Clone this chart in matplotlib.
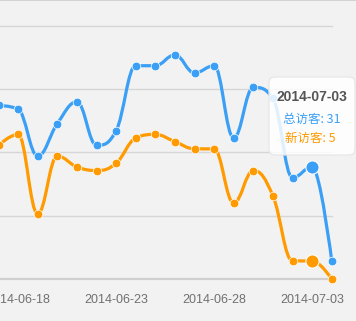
import numpy as np
import matplotlib
matplotlib.use("Agg")
import matplotlib.pyplot as plt
from matplotlib.path import Path
from matplotlib.patches import PathPatch, FancyBboxPatch
from matplotlib.transforms import IdentityTransform

# data (day index 0 = 2014-06-17)
dates = ["06-17", "06-18", "06-19", "06-20", "06-21", "06-22", "06-23", "06-24", "06-25",
         "06-26", "06-27", "06-28", "06-29", "06-30", "07-01", "07-02", "07-03", "07-04"]
total_visitors = [48, 47, 34, 43, 49, 37, 41, 59, 59, 62, 57, 59, 39, 53, 50, 28, 31, 5]
new_visitors = [37, 40, 18, 34, 31, 30, 32, 39, 40, 38, 36, 36, 21, 30, 23, 5, 5, 0]
tick_idx = [1, 6, 11, 16]
tick_labels = ["2014-06-18", "2014-06-23", "2014-06-28", "2014-07-03"]
grid_vals = [0, 17.5, 35, 52.5, 70]
hover_idx = 16

BLUE = "#3a9ff5"
ORANGE = "#ff9a00"
BG = "#f2f2f2"


def spline_path(xs, ys, smoothing=1.5):
    # highcharts-like spline control points
    n = len(xs)
    denom = smoothing + 1
    lc = [(xs[i], ys[i]) for i in range(n)]
    rc = [(xs[i], ys[i]) for i in range(n)]
    for i in range(1, n - 1):
        x, y = xs[i], ys[i]
        lx, ly = xs[i - 1], ys[i - 1]
        nx, ny = xs[i + 1], ys[i + 1]
        lcx = (smoothing * x + lx) / denom
        lcy = (smoothing * y + ly) / denom
        rcx = (smoothing * x + nx) / denom
        rcy = (smoothing * y + ny) / denom
        corr = (rcy - lcy) * (rcx - x) / (rcx - lcx) + y - rcy
        lcy += corr
        rcy += corr
        if lcy > ly and lcy > y:
            lcy = max(ly, y)
            rcy = 2 * y - lcy
        elif lcy < ly and lcy < y:
            lcy = min(ly, y)
            rcy = 2 * y - lcy
        if rcy > ny and rcy > y:
            rcy = max(ny, y)
            lcy = 2 * y - rcy
        elif rcy < ny and rcy < y:
            rcy = min(ny, y)
            lcy = 2 * y - rcy
        lc[i] = (lcx, lcy)
        rc[i] = (rcx, rcy)
    verts = [(xs[0], ys[0])]
    codes = [Path.MOVETO]
    for i in range(1, n):
        verts += [rc[i - 1], lc[i], (xs[i], ys[i])]
        codes += [Path.CURVE4] * 3
    return Path(verts, codes)


W, H = 356, 321
fig = plt.figure(figsize=(W / 100, H / 100), dpi=100)
fig.patch.set_facecolor(BG)
ax = fig.add_axes([0, (H - 279) / H, 1, 279 / H])
ax.set_facecolor(BG)

x = np.arange(len(dates))
px_per_day = 19.6
x0 = 1.5 / px_per_day
ax.set_xlim(x0, x0 + W / px_per_day)
ax.set_ylim(0, 279 / 3.615)

xmax_grid = 17.0
for i, g in enumerate(grid_vals):
    ax.plot([ax.get_xlim()[0], xmax_grid], [g, g], color="#d6d6d6" if i else "#d0d0d0",
            lw=1.0 if i else 1.6, zorder=1, clip_on=False)

for vals, col in [(total_visitors, BLUE), (new_visitors, ORANGE)]:
    path = spline_path(list(x.astype(float)), list(map(float, vals)))
    ax.add_patch(PathPatch(path, facecolor="none", edgecolor=col, lw=2.3,
                           capstyle="round", joinstyle="round", zorder=3, clip_on=False))
    ax.plot(x, vals, "o", color=col, ms=6.2, mec="white", mew=0.5, zorder=4, clip_on=False)
    ax.plot(x[hover_idx], vals[hover_idx], "o", color=col, ms=9.5, mec="white", mew=0.8,
            zorder=5, clip_on=False)

for s in ["left", "right", "bottom"]:
    ax.spines[s].set_visible(False)
ax.spines["top"].set_color("#cccccc")
ax.spines["top"].set_linewidth(1.2)
ax.set_yticks([])
ax.set_xticks(tick_idx)
ax.set_xticklabels(tick_labels, fontsize=9, color="#707070", family="Liberation Sans")
ax.tick_params(axis="x", length=0, pad=10.5)

# tooltip
box = FancyBboxPatch((269, H - 155), 86, 78, boxstyle="round,pad=0,rounding_size=6",
                     transform=IdentityTransform(), facecolor="white", alpha=0.85,
                     edgecolor="#e6e6e6", lw=1, zorder=10)
fig.patches.append(box)
fig.text(312 / W, 1 - 97 / H, "2014-" + dates[hover_idx], ha="center", va="center",
         fontsize=10, fontweight="bold", color="#555555", family="Liberation Sans", zorder=11)
fig.text(312 / W, 1 - 119 / H, f"总访客: {total_visitors[hover_idx]}", ha="center", va="center",
         fontsize=9, color=BLUE, family=["Noto Sans CJK SC", "DejaVu Sans"], zorder=11)
fig.text(310 / W, 1 - 138 / H, f"新访客: {new_visitors[hover_idx]}", ha="center", va="center",
         fontsize=9, color=ORANGE, family=["Noto Sans CJK SC", "DejaVu Sans"], zorder=11)

fig.savefig("out.png", dpi=100, facecolor=BG)
